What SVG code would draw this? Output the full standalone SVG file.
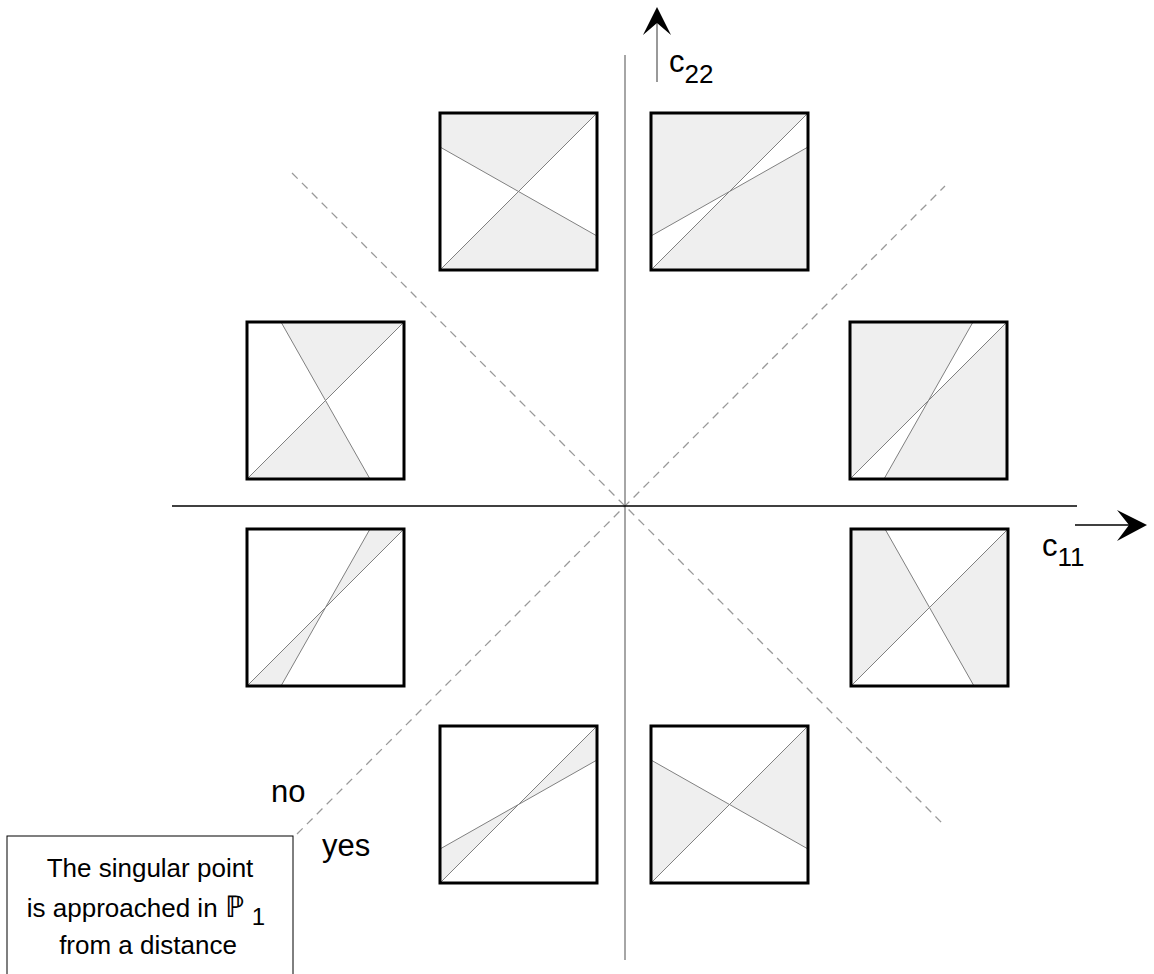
<svg xmlns="http://www.w3.org/2000/svg" width="1154" height="974" viewBox="0 0 1154 974">
<style>
.sh{fill:#efefef;stroke:none}
.ln{stroke:#808080;stroke-width:1;fill:none}
.bx{fill:none;stroke:#000;stroke-width:3}
.dash{stroke:#999;stroke-width:1.3;stroke-dasharray:8 6;fill:none}
text{font-family:"Liberation Sans",Arial,sans-serif;fill:#000}
.lab{font-size:31px}
.box{font-size:26px}
</style>
<rect width="1154" height="974" fill="#fff"/>
<g id="connectors">
<line class="dash" x1="292" y1="173" x2="945" y2="826"/>
<line class="dash" x1="297" y1="834" x2="945" y2="186"/>
<line x1="625" y1="55" x2="625" y2="960" stroke="#888" stroke-width="1.5"/>
<line x1="172" y1="506" x2="1077" y2="506" stroke="#000" stroke-width="1.5"/>
<line x1="657" y1="82" x2="657" y2="22" stroke="#777" stroke-width="1.5"/>
<polygon points="657,7 643,35 657,23 671,35" fill="#000"/>
<line x1="1075" y1="525" x2="1132" y2="525" stroke="#000" stroke-width="1.5"/>
<polygon points="1147,525 1117,510 1129,525 1117,541" fill="#000"/>
</g>
<g id="sq-top-left" transform="translate(440,113)">
<polygon class="sh" points="0,0 157,0 78.5,78.5 0,34"/>
<polygon class="sh" points="0,157 78.5,78.5 157,123 157,157"/>
<line class="ln" x1="0" y1="157" x2="157" y2="0"/>
<line class="ln" x1="0" y1="34" x2="157" y2="123"/>
<rect class="bx" width="157" height="157"/>
</g>
<g id="sq-top-right" transform="translate(651,113)">
<polygon class="sh" points="0,0 157,0 78.5,78.5 0,123"/>
<polygon class="sh" points="157,34 157,157 0,157 78.5,78.5"/>
<line class="ln" x1="0" y1="157" x2="157" y2="0"/>
<line class="ln" x1="0" y1="123" x2="157" y2="34"/>
<rect class="bx" width="157" height="157"/>
</g>
<g id="sq-left-upper" transform="translate(247,322)">
<polygon class="sh" points="34,0 157,0 78.5,78.5"/>
<polygon class="sh" points="0,157 78.5,78.5 123,157"/>
<line class="ln" x1="0" y1="157" x2="157" y2="0"/>
<line class="ln" x1="34" y1="0" x2="123" y2="157"/>
<rect class="bx" width="157" height="157"/>
</g>
<g id="sq-right-upper" transform="translate(850,322)">
<polygon class="sh" points="0,0 123,0 78.5,78.5 0,157"/>
<polygon class="sh" points="157,0 157,157 34,157 78.5,78.5"/>
<line class="ln" x1="0" y1="157" x2="157" y2="0"/>
<line class="ln" x1="123" y1="0" x2="34" y2="157"/>
<rect class="bx" width="157" height="157"/>
</g>
<g id="sq-left-lower" transform="translate(247,529)">
<polygon class="sh" points="123,0 157,0 78.5,78.5"/>
<polygon class="sh" points="0,157 78.5,78.5 34,157"/>
<line class="ln" x1="0" y1="157" x2="157" y2="0"/>
<line class="ln" x1="123" y1="0" x2="34" y2="157"/>
<rect class="bx" width="157" height="157"/>
</g>
<g id="sq-right-lower" transform="translate(851,529)">
<polygon class="sh" points="0,0 34,0 78.5,78.5 0,157"/>
<polygon class="sh" points="157,0 157,157 123,157 78.5,78.5"/>
<line class="ln" x1="0" y1="157" x2="157" y2="0"/>
<line class="ln" x1="34" y1="0" x2="123" y2="157"/>
<rect class="bx" width="157" height="157"/>
</g>
<g id="sq-bottom-left" transform="translate(440,726)">
<polygon class="sh" points="0,123 78.5,78.5 0,157"/>
<polygon class="sh" points="157,0 157,34 78.5,78.5"/>
<line class="ln" x1="0" y1="157" x2="157" y2="0"/>
<line class="ln" x1="0" y1="123" x2="157" y2="34"/>
<rect class="bx" width="157" height="157"/>
</g>
<g id="sq-bottom-right" transform="translate(651,726)">
<polygon class="sh" points="0,34 78.5,78.5 0,157"/>
<polygon class="sh" points="157,0 78.5,78.5 157,123"/>
<line class="ln" x1="0" y1="157" x2="157" y2="0"/>
<line class="ln" x1="0" y1="34" x2="157" y2="123"/>
<rect class="bx" width="157" height="157"/>
</g>
<g id="labels">
<text class="lab" x="669" y="72">c<tspan font-size="26" dy="11">22</tspan></text>
<text class="lab" x="1042" y="556">c<tspan font-size="26" dy="10">11</tspan></text>
<text class="lab" x="271" y="802">no</text>
<text class="lab" x="322" y="856">yes</text>
</g>
<g id="note">
<rect x="7" y="836" width="286" height="150" fill="#fff" stroke="#000" stroke-width="1"/>
<text class="box" x="150" y="877" text-anchor="middle">The singular point</text>
<text class="box" x="146" y="917" text-anchor="middle">is approached in <tspan font-family="DejaVu Sans" font-weight="200" font-size="30">ℙ</tspan><tspan font-size="24" dx="7" dy="8">1</tspan></text>
<text class="box" x="148" y="954" text-anchor="middle">from a distance</text>
</g>
</svg>
